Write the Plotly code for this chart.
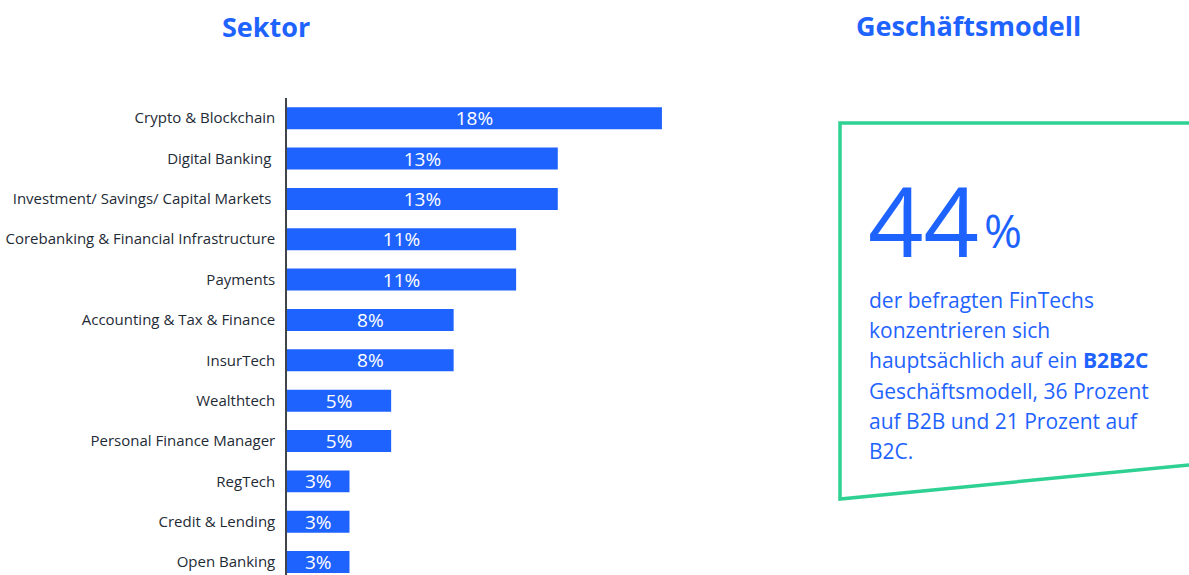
import plotly.graph_objects as go

# Sector shares (percent of surveyed FinTechs)
sectors = [
    "Crypto & Blockchain",
    "Digital Banking ",
    "Investment/ Savings/ Capital Markets ",
    "Corebanking & Financial Infrastructure",
    "Payments",
    "Accounting & Tax & Finance",
    "InsurTech",
    "Wealthtech",
    "Personal Finance Manager",
    "RegTech",
    "Credit & Lending",
    "Open Banking",
]
shares = [18, 13, 13, 11, 11, 8, 8, 5, 5, 3, 3, 3]

headline_value = 44
body_lines = [
    "der befragten FinTechs",
    "konzentrieren sich",
    "hauptsächlich auf ein <b>B2B2C</b>",
    "Geschäftsmodell, 36 Prozent",
    "auf B2B und 21 Prozent auf",
    "B2C.",
]

W, H = 1189, 575
ML, MR, MT, MB = 287, 0, 98, 0
PW, PH = W - ML - MR, H - MT - MB

BLUE = "#1f63ff"
GREEN = "#2ed192"
DARK = "#1e2b36"
FONT = "Open Sans"


def px(x):
    return (x - ML) / PW


def py(y):
    return 1 - (y - MT) / PH


fig = go.Figure(
    go.Bar(
        x=shares,
        y=sectors,
        orientation="h",
        marker=dict(color=BLUE, line=dict(width=0)),
        width=0.545,
        text=[f"{v}%" for v in shares],
        textposition="inside",
        insidetextanchor="middle",
        textfont=dict(color="white", size=19, family=FONT),
        constraintext="none",
        hoverinfo="skip",
    )
)

fig.update_xaxes(
    range=[0, PW / 20.83],
    visible=False,
    showgrid=False,
    zeroline=False,
)
fig.update_yaxes(
    range=[11.32, -0.50],
    showline=True,
    linecolor="#3f454b",
    linewidth=1.5,
    showgrid=False,
    ticks="",
    ticklabelstandoff=7,
    tickfont=dict(size=15, color=DARK, family=FONT),
)

annotations = [
    dict(text="<b>Sektor</b>", x=px(266), y=py(27), xref="paper", yref="paper",
         showarrow=False, font=dict(size=27, color=BLUE, family=FONT),
         xanchor="center", yanchor="middle"),
    dict(text="<b>Geschäftsmodell</b>", x=px(968), y=py(25), xref="paper", yref="paper",
         showarrow=False, font=dict(size=27, color=BLUE, family=FONT),
         xanchor="center", yanchor="middle"),
    dict(text=str(headline_value), x=px(866), y=py(219), xref="paper", yref="paper",
         showarrow=False, font=dict(size=97, color=BLUE, family=FONT),
         xanchor="left", yanchor="middle"),
    dict(text="%", x=px(982), y=py(230), xref="paper", yref="paper",
         showarrow=False, font=dict(size=46, color=BLUE, family=FONT),
         xanchor="left", yanchor="middle"),
]
for i, line in enumerate(body_lines):
    annotations.append(
        dict(text=line, x=px(867), y=py(300 + i * 30.2), xref="paper", yref="paper",
             showarrow=False, font=dict(size=21, color=BLUE, family=FONT),
             xanchor="left", yanchor="middle")
    )

box_path = (
    f"M {px(1189)},{py(123)} L {px(840)},{py(123)} "
    f"L {px(840)},{py(499)} L {px(1189)},{py(465)}"
)
shapes = [
    dict(type="path", path=box_path, xref="paper", yref="paper",
         line=dict(color=GREEN, width=3.5), fillcolor="rgba(0,0,0,0)"),
]

fig.update_layout(
    width=W,
    height=H,
    autosize=False,
    margin=dict(l=ML, r=MR, t=MT, b=MB, pad=0),
    paper_bgcolor="white",
    plot_bgcolor="white",
    showlegend=False,
    annotations=annotations,
    shapes=shapes,
    font=dict(family=FONT),
)

fig.write_html("out.html", config={"displayModeBar": False})
